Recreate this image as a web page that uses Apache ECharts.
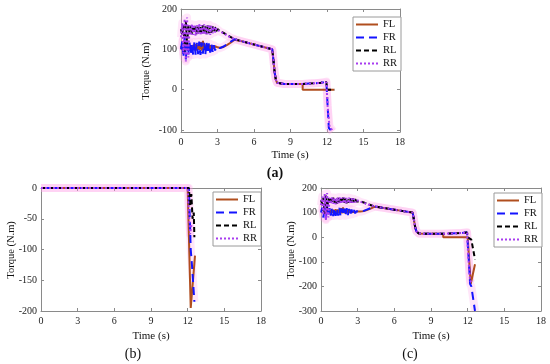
<!DOCTYPE html>
<html>
<head>
<meta charset="utf-8">
<script src="https://cdn.jsdelivr.net/npm/echarts@6/dist/echarts.min.js"></script>
<style>html,body{margin:0;padding:0;background:#fff}#c{width:550px;height:364px}</style>
</head>
<body>
<div id="c"></div>
<script>
// ---- data ----
const seriesNames = ['FL', 'FR', 'RL', 'RR'];
const xTicks = [0, 3, 6, 9, 12, 15, 18];
const yTicksA = [-100, 0, 100, 200];

// oscillating start (0–3 s), shared by (a) and (c)
const tOsc = [0,0.1,0.2,0.3,0.4,0.5,0.6,0.7,0.8,0.9,1.0,1.1,1.2,1.3,1.4,1.5,1.6,1.7,1.8,1.9,2.0,2.1,2.2,2.3,2.4,2.5,2.6,2.7,2.8,2.9,3.0];
const flOsc = [108,100,112,96,115,98,112,97,110,99,111,98,113,97,112,99,118,97,121,98,112,99,110,100,110,101,109,102,108,104,105];
const frOsc = [100,120,80,130,75,125,85,118,88,115,86,118,87,116,88,119,86,117,89,116,87,118,90,115,92,113,94,110,97,106,102];
const rlOsc = [150,135,160,95,170,110,160,140,158,138,160,140,157,137,159,139,158,141,160,140,157,138,159,140,158,141,157,142,155,145,150];
const rrOsc = [130,165,90,175,70,179,80,160,135,162,136,161,134,160,138,163,135,160,137,162,136,159,138,161,136,158,140,156,142,152,148];

// convergence, decline and drop (3–10 s)
const tMid = [3.2,3.5,3.8,4.1,4.4,5.0,5.5,6.0,6.5,7.0,7.5,7.6,7.7,7.8,7.9,8.0,8.5,9.0,9.5,10.0];
const flMid = [104,106,111,117,124,120,116,112,108,104,100,72,42,24,17,15,14,14,14,14];
const frMid = [103,107,113,119,125,120,116,112,108,104,100,72,42,24,17,15,14,14,14,14];
const rlMid = [146,141,135,130,125,120,116,112,108,104,100,72,42,24,17,15,14,14,14,14];
const rrMid = [144,140,134,129,125,120,116,112,108,104,100,72,42,24,17,15,14,14,14,14];

// 10–12 s
const tLateFL = [10.0, 12.0];
const flLate = [0, 0];
const tLate = [10.5, 11.0, 11.5, 11.95];
const frLate = [15, 16, 17, 20];
const rlLate = [15, 16, 17, 19];
const rrLate = [15, 16, 17, 18];

// (a) tails after 12 s
const tFLa = [12.6];                         const flTailA = [0];
const tFRa = [12.0,12.05,12.15,12.3,12.45];  const frTailA = [24,-40,-95,-100,-105];
const tRLa = [12.0,12.6];                    const rlTailA = [0,0];
const tRRa = [12.05,12.2,12.35,12.5];        const rrTailA = [-40,-90,-97,-103];

// (b) braking torques
const tFLb = [0,12.0,12.25,12.6];                    const flB = [0,0,-195,-110];
const tFRb = [0,12.1,12.25,12.35,12.5,12.55];        const frB = [0,0,-100,-125,-170,-185];
const tRLb = [0,12.1,12.2,12.3,12.4,12.5,12.55];     const rlB = [0,0,-30,-10,-50,-40,-80];
const tRRb = [0,12.0,12.1,12.2,12.3];                const rrB = [0,0,-40,-75,-60];

// (c) tails after 12 s
const tFLc = [12.05,12.25,12.6];                  const flTailC = [0,-190,-110];
const tFRc = [12.0,12.1,12.2,12.3,12.45,12.6];    const frTailC = [22,-100,-190,-200,-250,-300];
const tRLc = [12.0,12.15,12.3,12.45,12.6];        const rlTailC = [0,0,-10,-50,-90];
const tRRc = [12.05,12.2,12.3];                   const rrTailC = [-80,-175,-185];

// ---- build ----
const zip = (t, v) => t.map((x, i) => [x, v[i]]);
const cat = (...parts) => parts.reduce((a, p) => a.concat(zip(p[0], p[1])), []);

const dataA = {
  FL: cat([tOsc, flOsc], [tMid, flMid], [tLateFL, flLate], [tFLa, flTailA]),
  FR: cat([tOsc, frOsc], [tMid, frMid], [tLate, frLate], [tFRa, frTailA]),
  RL: cat([tOsc, rlOsc], [tMid, rlMid], [tLate, rlLate], [tRLa, rlTailA]),
  RR: cat([tOsc, rrOsc], [tMid, rrMid], [tLate, rrLate], [tRRa, rrTailA])
};
const dataB = {
  FL: zip(tFLb, flB), FR: zip(tFRb, frB), RL: zip(tRLb, rlB), RR: zip(tRRb, rrB)
};
const dataC = {
  FL: cat([tOsc, flOsc], [tMid, flMid], [tLateFL, flLate], [tFLc, flTailC]),
  FR: cat([tOsc, frOsc], [tMid, frMid], [tLate, frLate], [tFRc, frTailC]),
  RL: cat([tOsc, rlOsc], [tMid, rlMid], [tLate, rlLate], [tRLc, rlTailC]),
  RR: cat([tOsc, rrOsc], [tMid, rrMid], [tLate, rrLate], [tRRc, rrTailC])
};

const styles = {
  FL: { color: '#b04e1e', type: 'solid', width: 2 },
  FR: { color: '#1414ff', type: [8, 5], width: 2 },
  RL: { color: '#000000', type: [5, 3], width: 2 },
  RR: { color: '#a83cf0', type: [2, 2], width: 2 }
};

const FONT = 'Liberation Serif';
const axisCol = '#8a8a8a';
const grids = [
  { left: 181, top: 9, width: 219, height: 123 },
  { left: 41, top: 188, width: 220, height: 123 },
  { left: 321, top: 188, width: 220, height: 123 }
];
const yRanges = [
  { min: -105, max: 200, custom: yTicksA },
  { min: -200, max: 0, interval: 50 },
  { min: -300, max: 200, interval: 100 }
];

const xAxis = [], yAxis = [], series = [];
grids.forEach((g, gi) => {
  const baseX = {
    type: 'value', gridIndex: gi, min: 0, max: 18, interval: 3,
    axisLine: { show: true, onZero: false, lineStyle: { color: axisCol, width: 1 } },
    axisTick: { show: true, inside: true, length: 3, lineStyle: { color: axisCol } },
    splitLine: { show: false }
  };
  xAxis.push(Object.assign({}, baseX, {
    position: 'bottom',
    axisLabel: { show: true, margin: 5, fontFamily: FONT, fontSize: 10, color: '#222' }
  }));
  xAxis.push(Object.assign({}, baseX, { position: 'top', axisLabel: { show: false } }));
  const r = yRanges[gi];
  const baseY = {
    type: 'value', gridIndex: gi, min: r.min, max: r.max,
    axisLine: { show: true, onZero: false, lineStyle: { color: axisCol, width: 1 } },
    splitLine: { show: false }
  };
  if (r.interval) baseY.interval = r.interval;
  const tick = { show: true, inside: true, length: 3, lineStyle: { color: axisCol } };
  const lab = { show: true, margin: 4, fontFamily: FONT, fontSize: 10, color: '#222' };
  if (r.custom) { tick.customValues = r.custom; lab.customValues = r.custom; }
  yAxis.push(Object.assign({}, baseY, { position: 'left', axisTick: tick, axisLabel: lab }));
  yAxis.push(Object.assign({}, baseY, { position: 'right', axisTick: Object.assign({}, tick), axisLabel: { show: false } }));
});

// soft pink halo seen around the traces in the reference
[dataA, dataB, dataC].forEach((d, gi) => {
  ['FR', 'RR'].forEach(n => {
    series.push({
      name: 'halo', type: 'line', xAxisIndex: gi * 2, yAxisIndex: gi * 2,
      data: d[n], showSymbol: false, symbol: 'none', animation: false, silent: true,
      lineStyle: { color: 'rgba(255,150,230,0.24)', width: 8, join: 'round' }, z: 1
    });
  });
});

[dataA, dataB, dataC].forEach((d, gi) => {
  seriesNames.forEach(n => {
    series.push({
      name: n, type: 'line', xAxisIndex: gi * 2, yAxisIndex: gi * 2,
      data: d[n], showSymbol: false, symbol: 'none', animation: false,
      lineStyle: styles[n], itemStyle: { color: styles[n].color }, z: 3
    });
  });
});

const legendBase = {
  orient: 'vertical', data: seriesNames, itemWidth: 22, itemHeight: 10, itemGap: 2,
  itemTextGap: 2, padding: [2, 4, 2, 2], borderColor: '#9a9a9a', borderWidth: 1,
  backgroundColor: '#fff', textStyle: { fontFamily: FONT, fontSize: 10.5, color: '#111' },
  itemStyle: { color: 'rgba(0,0,0,0)', borderWidth: 0, opacity: 0 },
  selectedMode: false
};
const legend = [
  Object.assign({}, legendBase, { left: 353, top: 17 }),
  Object.assign({}, legendBase, { left: 213, top: 192 }),
  Object.assign({}, legendBase, { left: 494, top: 193 })
];

const txt = (x, y, text, size, rot, extra) => ({
  type: 'text', x: x, y: y, rotation: rot || 0,
  style: Object.assign({ text: text, fontFamily: FONT, fontSize: size, fill: '#111', align: 'center', verticalAlign: 'middle' }, extra || {})
});
const graphic = [
  txt(290, 155, 'Time (s)', 11),
  txt(151, 336, 'Time (s)', 11),
  txt(431, 336, 'Time (s)', 11),
  txt(146, 71, 'Torque (N.m)', 10.5, Math.PI / 2),
  txt(11, 250, 'Torque (N.m)', 10.5, Math.PI / 2),
  txt(291, 250, 'Torque (N.m)', 10.5, Math.PI / 2),
  txt(275, 173, '(a)', 14, 0, { fontWeight: 'bold' }),
  txt(133, 354, '(b)', 14),
  txt(410, 354, '(c)', 14)
];

const chart = echarts.init(document.getElementById('c'), null, { renderer: 'canvas' });
chart.setOption({
  animation: false,
  backgroundColor: '#fff',
  grid: grids,
  xAxis: xAxis,
  yAxis: yAxis,
  legend: legend,
  series: series,
  graphic: graphic
});
</script>
</body>
</html>
